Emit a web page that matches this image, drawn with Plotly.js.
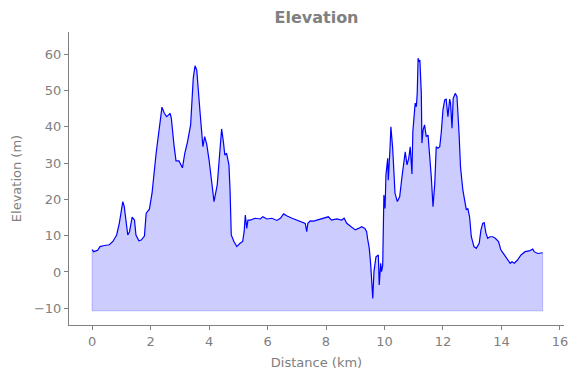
<!DOCTYPE html>
<html>
<head>
<meta charset="utf-8">
<script src="https://cdn.plot.ly/plotly-3.0.1.min.js"></script>
<style>html,body{margin:0;padding:0;background:#fff;}#chart{width:578px;height:378px;}</style>
</head>
<body>
<div id="chart"></div>
<script>
const distanceKm = [0.00,0.05,0.19,0.27,0.42,0.59,0.71,0.84,0.93,1.05,1.10,1.22,1.28,1.37,1.45,1.50,1.60,1.68,1.79,1.85,1.96,2.05,2.19,2.28,2.39,2.47,2.55,2.67,2.71,2.80,2.87,2.97,3.09,3.17,3.26,3.37,3.46,3.52,3.58,3.69,3.77,3.79,3.85,3.92,4.00,4.09,4.17,4.28,4.38,4.43,4.49,4.54,4.60,4.68,4.72,4.76,4.85,4.95,5.06,5.15,5.20,5.24,5.29,5.33,5.41,5.58,5.75,5.84,5.98,6.15,6.32,6.44,6.55,6.67,6.84,7.01,7.18,7.29,7.34,7.38,7.46,7.58,7.69,7.81,7.91,8.08,8.19,8.37,8.54,8.62,8.71,8.88,9.00,9.11,9.22,9.33,9.39,9.42,9.48,9.53,9.60,9.64,9.71,9.79,9.82,9.87,9.90,9.94,9.98,10.02,10.05,10.11,10.13,10.19,10.22,10.28,10.36,10.44,10.52,10.60,10.67,10.71,10.77,10.83,10.88,10.94,10.97,11.03,11.05,11.09,11.12,11.15,11.18,11.21,11.26,11.28,11.32,11.37,11.43,11.49,11.54,11.60,11.66,11.72,11.77,11.83,11.89,11.94,12.00,12.06,12.11,12.17,12.23,12.26,12.31,12.35,12.42,12.48,12.55,12.60,12.68,12.74,12.80,12.85,12.91,12.97,13.06,13.14,13.24,13.30,13.36,13.41,13.47,13.53,13.61,13.70,13.79,13.90,13.98,14.10,14.21,14.30,14.36,14.44,14.55,14.67,14.81,14.95,15.07,15.12,15.24,15.35,15.41];
const elevationM = [6.2,5.6,6.0,7.0,7.3,7.5,8.4,10.2,13.4,19.4,18.0,10.2,11.1,15.1,14.3,10.2,8.6,8.8,9.9,16.2,17.3,21.7,32.7,38.2,45.4,43.7,42.8,43.7,42.3,35.0,30.6,30.6,28.7,32.7,35.7,40.5,53.4,56.8,55.6,44.2,36.8,34.5,37.3,35.2,30.9,25.3,19.4,24.0,35.0,39.4,35.9,32.2,32.7,29.5,22.1,10.2,8.4,7.0,7.9,8.4,11.1,15.7,12.0,14.3,14.3,14.8,14.6,15.2,14.6,14.8,14.2,14.8,16.0,15.4,14.8,14.3,13.9,13.4,11.1,13.4,14.1,14.0,14.3,14.6,14.8,15.2,14.3,14.6,14.3,14.8,13.4,12.2,11.6,12.0,12.5,12.0,11.1,9.3,6.5,1.9,-7.3,0.1,4.2,4.7,-3.6,2.4,0.1,1.9,21.2,17.5,26.7,31.3,25.3,34.1,40.0,34.1,21.7,19.4,20.7,26.3,30.9,33.1,29.5,31.3,34.5,27.0,38.7,43.3,46.5,45.5,49.2,58.9,57.9,58.4,49.2,35.5,39.1,40.5,37.3,37.7,32.7,26.3,18.0,24.4,34.5,34.1,34.5,38.2,44.6,47.4,47.6,42.8,47.6,46.5,39.6,47.8,49.2,48.3,38.2,29.0,22.6,20.3,17.1,17.5,15.2,9.7,7.0,6.5,7.9,11.6,13.4,13.6,10.7,9.3,9.7,9.7,9.3,8.4,6.1,4.7,3.3,2.4,2.8,2.4,3.3,4.7,5.6,5.8,6.3,5.6,5.1,5.1,5.3];
const fillBase = -10.7;
const xTicks = [0,2,4,6,8,10,12,14,16];
const yTicks = [-10,0,10,20,30,40,50,60];

const gray = '#808080';
const font = 'DejaVu Sans, sans-serif';
const last = distanceKm.length - 1;

const baseTrace = {
  x: [distanceKm[0], distanceKm[0], distanceKm[last], distanceKm[last]],
  y: [elevationM[0], fillBase, fillBase, elevationM[last]],
  mode: 'lines',
  line: {color: 'rgba(0,0,255,0.22)', width: 1},
  hoverinfo: 'skip',
  showlegend: false
};
const baseFill = {
  x: [distanceKm[0], distanceKm[last]],
  y: [fillBase, fillBase],
  mode: 'lines',
  line: {color: 'rgba(0,0,0,0)', width: 0},
  hoverinfo: 'skip',
  showlegend: false
};
const elevTrace = {
  x: distanceKm,
  y: elevationM,
  mode: 'lines',
  line: {color: '#0000ff', width: 1.2},
  fill: 'tonexty',
  fillcolor: 'rgba(0,0,255,0.2)',
  showlegend: false
};

const layout = {
  width: 578, height: 378,
  margin: {l: 69, r: 14, t: 32, b: 53},
  paper_bgcolor: '#fff', plot_bgcolor: '#fff',
  showlegend: false,
  title: {text: '<b>Elevation</b>', x: 0.5476, xanchor: 'center', y: 0.955, yanchor: 'middle',
          font: {family: font, size: 16, color: gray}},
  xaxis: {
    range: [-0.79, 16.14], tickvals: xTicks, ticktext: xTicks.map(String),
    showgrid: false, zeroline: false, showline: true, linecolor: gray, linewidth: 1,
    ticks: 'outside', ticklen: 4, tickcolor: gray, tickwidth: 1,
    tickfont: {family: font, size: 13, color: gray},
    title: {text: 'Distance (km)', font: {family: font, size: 13, color: gray}, standoff: 10}
  },
  yaxis: {
    range: [-14.6, 66.1], tickvals: yTicks, ticktext: yTicks.map(v => v < 0 ? '\u2212' + Math.abs(v) : String(v)),
    showgrid: false, zeroline: false, showline: true, linecolor: gray, linewidth: 1,
    ticks: 'outside', ticklen: 4, tickcolor: gray, tickwidth: 1,
    tickfont: {family: font, size: 13, color: gray},
    title: {text: 'Elevation (m)', font: {family: font, size: 13, color: gray}, standoff: 9}
  }
};

Plotly.newPlot('chart', [baseTrace, baseFill, elevTrace], layout, {displayModeBar: false, staticPlot: true});
</script>
</body>
</html>
